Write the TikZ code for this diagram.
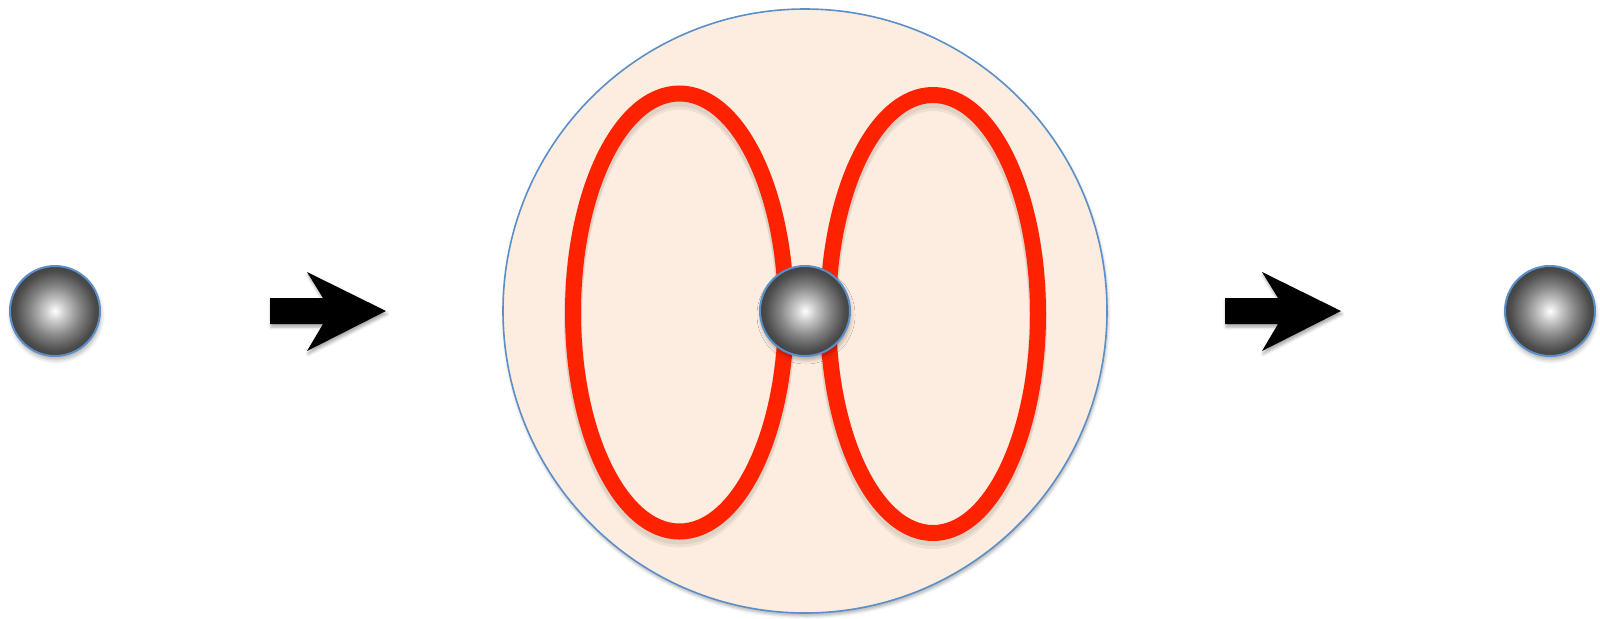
\documentclass[tikz,border=0pt]{standalone}
\usetikzlibrary{shadows.blur}
\definecolor{peach}{HTML}{FDEDE0}
\definecolor{rimblue}{HTML}{5B8FC9}
\definecolor{loopred}{HTML}{FF2200}
\pgfdeclareradialshading{ballshade}{\pgfpoint{0bp}{0bp}}{color(0bp)=(white); color(6bp)=(black!22); color(14bp)=(black!48); color(22bp)=(black!70); color(25bp)=(black!74); color(50bp)=(black!74)}
\tikzset{
  ball/.style={circle, minimum size=45pt, inner sep=0pt, draw=rimblue, line width=1pt,
    shading=ballshade, blur shadow={shadow xshift=0.5pt, shadow yshift=-2pt, shadow blur radius=2pt, shadow opacity=30}},
  bigdisc/.style={draw=rimblue, line width=0.8pt, fill=peach,
    blur shadow={shadow xshift=0.5pt, shadow yshift=-1.5pt, shadow blur radius=1.5pt, shadow opacity=30}},
  loop/.style={draw=loopred, line width=8pt},
  loopshadow/.style={draw=black, line width=9pt, opacity=0.06},
  fatarrow/.style={fill=black, blur shadow={shadow xshift=0.5pt, shadow yshift=-1.5pt, shadow blur radius=1.5pt, shadow opacity=35}}
}
\begin{document}
\begin{tikzpicture}[x=0.5pt,y=-0.5pt]
\useasboundingbox (0,0) rectangle (1600,618);
% big disc
\path[bigdisc] (805,311) circle (302);
% loops shadows
\foreach \d in {2,3.5} {
  \draw[loopshadow] ([yshift=-\d pt]679.5,312.5) ellipse [x radius=106.5, y radius=219];
  \draw[loopshadow] ([yshift=-\d pt]933,314) ellipse [x radius=105, y radius=219];
}
% loops
\draw[loop] (679.5,312.5) ellipse [x radius=106.5, y radius=219];
\draw[loop] (933,314) ellipse [x radius=105, y radius=219];
% balls
\node[ball] (bleft) at (55,311) {};
\node[ball] (bmid) at (805,311) {};
\node[ball] (bright) at (1550,311) {};
% arrows
\foreach \s/\nm in {0/arrA,955/arrB} {
  \begin{scope}[xshift=\s*0.5pt]
    \path[fatarrow] (270,298) -- (323,298) -- (307,272) -- (386,311) -- (307,351) -- (323,324) -- (270,324) -- cycle;
    \coordinate (\nm) at (328,311);
  \end{scope}
}
\end{tikzpicture}
\end{document}
